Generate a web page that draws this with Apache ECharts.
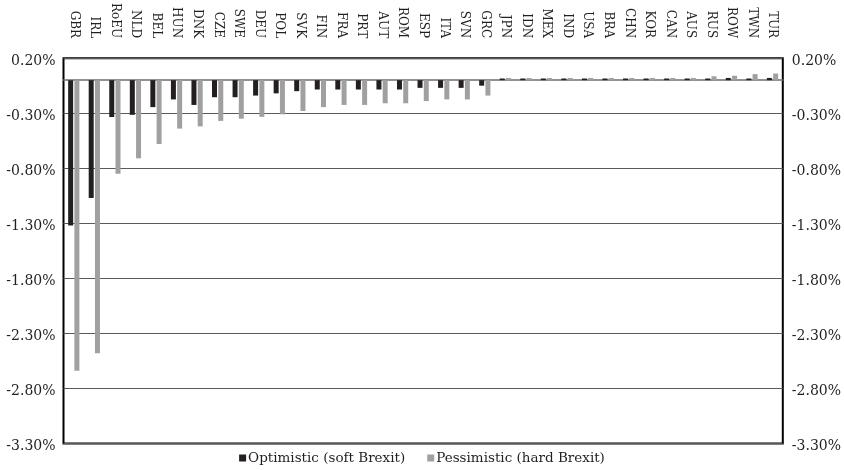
<!DOCTYPE html>
<html><head><meta charset="utf-8">
<script src="https://cdn.jsdelivr.net/npm/echarts@6/dist/echarts.min.js"></script>
<style>html,body{margin:0;padding:0;background:#fff}#c{width:844px;height:470px}</style>
</head><body><div id="c"></div>
<script>
const categories = ['GBR','IRL','RoEU','NLD','BEL','HUN','DNK','CZE','SWE','DEU','POL','SVK','FIN','FRA','PRT','AUT','ROM','ESP','ITA','SVN','GRC','JPN','IDN','MEX','IND','USA','BRA','CHN','KOR','CAN','AUS','RUS','ROW','TWN','TUR'];
const optimistic = [-1.32,-1.07,-0.335,-0.315,-0.245,-0.175,-0.225,-0.155,-0.155,-0.14,-0.12,-0.10,-0.085,-0.085,-0.085,-0.085,-0.085,-0.07,-0.07,-0.07,-0.05,0.015,0.015,0.015,0.015,0.015,0.015,0.015,0.015,0.015,0.015,0.015,0.02,0.015,0.02];
const pessimistic = [-2.64,-2.48,-0.85,-0.71,-0.58,-0.44,-0.42,-0.37,-0.35,-0.333,-0.31,-0.28,-0.245,-0.225,-0.225,-0.21,-0.21,-0.19,-0.175,-0.175,-0.14,0.02,0.02,0.02,0.02,0.02,0.02,0.02,0.02,0.02,0.02,0.035,0.04,0.055,0.06];
const seriesNames = ['Optimistic (soft Brexit)','Pessimistic (hard Brexit)'];
const yMin = -3.3, yMax = 0.2, yStep = 0.5;

const font = '"DejaVu Serif", "Liberation Serif", serif';
const chart = echarts.init(document.getElementById('c'));
const fmt = v => v.toFixed(2) + '%';
chart.setOption({
  animation: false,
  grid: {left: 63.5, right: 60.5, top: 58, bottom: 26.5, show: true, borderColor: '#000', borderWidth: 2, backgroundColor: 'transparent'},
  legend: {
    bottom: 0, left: 'center', icon: 'rect', itemWidth: 7, itemHeight: 7, itemGap: 22,
    textStyle: {fontFamily: font, fontSize: 13.5, color: '#231f20', padding: [0,0,0,-3]},
    data: seriesNames
  },
  xAxis: [
    {type: 'category', data: categories, position: 'top', axisLine: {show: false, onZero: false}, axisTick: {show: false},
     axisLabel: {rotate: 90, margin: 20, interval: 0, fontFamily: font, fontSize: 12, color: '#231f20'}},
    {type: 'category', data: categories, position: 'bottom', axisLine: {show: true, onZero: true, lineStyle: {color: '#6d6d6d', width: 1.5}}, axisTick: {show: false}, axisLabel: {show: false}}
  ],
  yAxis: [
    {type: 'value', min: yMin, max: yMax, interval: yStep, axisLine: {show: false}, axisTick: {show: false},
     splitLine: {show: true, lineStyle: {color: '#5a5a5a', width: 1.2}},
     axisLabel: {formatter: fmt, fontFamily: font, fontSize: 14, color: '#231f20', margin: 8, verticalAlign: 'top', padding: [-4,0,0,0]}},
    {type: 'value', min: yMin, max: yMax, interval: yStep, position: 'right', axisLine: {show: false}, axisTick: {show: false},
     splitLine: {show: false},
     axisLabel: {formatter: fmt, fontFamily: font, fontSize: 14, color: '#231f20', margin: 9, verticalAlign: 'top', padding: [-4,0,0,0]}}
  ],
  series: [
    {name: seriesNames[0], type: 'bar', data: optimistic, barWidth: 5, barGap: '25%', itemStyle: {color: '#231f20'}},
    {name: seriesNames[1], type: 'bar', data: pessimistic, barWidth: 5, barGap: '25%', itemStyle: {color: '#a0a0a3'}}
  ]
});
</script></body></html>
